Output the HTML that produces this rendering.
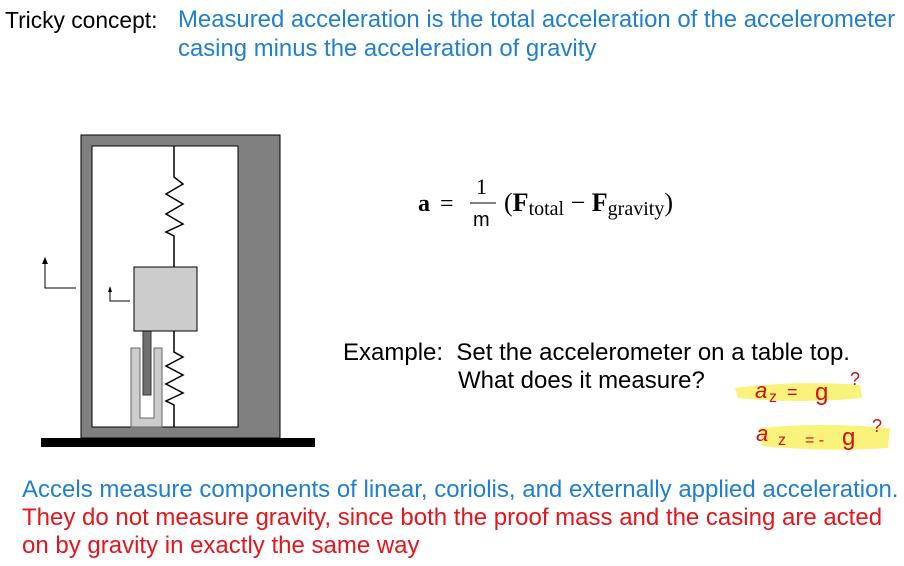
<!DOCTYPE html>
<html><head><style>
body{margin:0;width:904px;height:566px;background:#fff;position:relative;overflow:hidden;font-family:"Liberation Sans",sans-serif}
.t{position:absolute;white-space:nowrap;font-size:24px;line-height:28px}
.b{color:#1f7fd0}.r{color:#e8141b}
</style></head><body>
<div class="t" style="left:5px;top:6px;font-size:22.8px">Tricky concept:</div>
<div class="t b" style="left:178px;top:6px;font-size:23.9px">Measured acceleration is the total acceleration of the accelerometer</div>
<div class="t b" style="left:178px;top:35px;font-size:23.9px">casing minus the acceleration of gravity</div>
<svg width="904" height="566" style="position:absolute;left:0;top:0">
<rect x="81" y="135" width="199" height="303" fill="#808080" stroke="#000" stroke-width="1"/>
<rect x="92" y="146" width="146" height="281" fill="#fff" stroke="#000" stroke-width="1"/>
<rect x="41" y="438" width="274" height="9" fill="#000"/>
<polyline fill="none" stroke="#000" stroke-width="1.5" points="174,146 174,177 183,184 166,194 183,204 166,214 183,224 166,232 174,236 174,267"/>
<polyline fill="none" stroke="#000" stroke-width="1.5" points="174,331 174,352 183,357 166,366 183,375 166,384 183,393 166,401 174,405 174,427"/>
<path d="M131,348 H140 V418 H154 V348 H162 V427 H131 Z" fill="#cccccc" stroke="#666" stroke-width="1"/>
<rect x="143" y="331" width="8" height="64" fill="#707070" stroke="#333" stroke-width="1"/>
<rect x="134" y="267" width="63" height="64" fill="#cccccc" stroke="#000" stroke-width="1"/>
<polyline fill="none" stroke="#000" stroke-width="1" points="45,262 45,288 76,288"/>
<path d="M42,264 L45,257 L48,264 Z" fill="#000"/>
<polyline fill="none" stroke="#000" stroke-width="1" points="110,290 110,301 130,301"/>
<path d="M108,292 L110,286 L112,292 Z" fill="#000"/>
<path d="M735,388 Q800,380 860,385 L862,398 Q800,404 738,398Z" fill="#f7ef5a" opacity=".8"/>
<path d="M760,428 Q820,422 890,428 L888,448 Q820,452 762,446Z" fill="#f7ef5a" opacity=".8"/>
<text x="755" y="398" font-family="Liberation Sans" font-size="22" fill="#d0101a" font-style="italic">a</text>
<text x="769" y="402" font-family="Liberation Sans" font-size="16" fill="#d0101a">z</text>
<text x="787" y="398" font-family="Liberation Sans" font-size="18" fill="#d0101a">=</text>
<text x="815" y="400" font-family="Liberation Sans" font-size="24" fill="#d0101a">g</text>
<text x="850" y="385" font-family="Liberation Sans" font-size="18" fill="#d0101a">?</text>
<text x="756" y="441" font-family="Liberation Sans" font-size="22" fill="#d0101a" font-style="italic">a</text>
<text x="778" y="445" font-family="Liberation Sans" font-size="16" fill="#d0101a">z</text>
<text x="805" y="445" font-family="Liberation Sans" font-size="16" fill="#d0101a">= -</text>
<text x="842" y="445" font-family="Liberation Sans" font-size="24" fill="#d0101a">g</text>
<text x="872" y="432" font-family="Liberation Sans" font-size="18" fill="#d0101a">?</text>
<text x="418" y="211" font-family="Liberation Serif" font-size="24" font-weight="bold">a</text>
<text x="440" y="211" font-family="Liberation Serif" font-size="24">=</text>
<line x1="470" y1="203" x2="496" y2="203" stroke="#000" stroke-width="1"/>
<text x="476" y="194" font-family="Liberation Serif" font-size="22">1</text>
<text x="473" y="226" font-family="Liberation Sans" font-size="20">m</text>
<text x="504" y="211" font-family="Liberation Serif" font-size="26">(<tspan font-weight="bold">F</tspan><tspan font-size="20" dy="4">total</tspan><tspan dy="-4"> − </tspan><tspan font-weight="bold">F</tspan><tspan font-size="20" dy="4">gravity</tspan><tspan dy="-4">)</tspan></text>
</svg>
<div class="t" style="left:343px;top:339px;">Example:&nbsp; Set the accelerometer on a table top.</div>
<div class="t" style="left:458px;top:367px;">What does it measure?</div>
<div class="t b" style="left:22px;top:476px;">Accels measure components of linear, coriolis, and externally applied acceleration.</div>
<div class="t r" style="left:22px;top:504px;">They do not measure gravity, since both the proof mass and the casing are acted</div>
<div class="t r" style="left:22px;top:532px;">on by gravity in exactly the same way</div>
</body></html>
